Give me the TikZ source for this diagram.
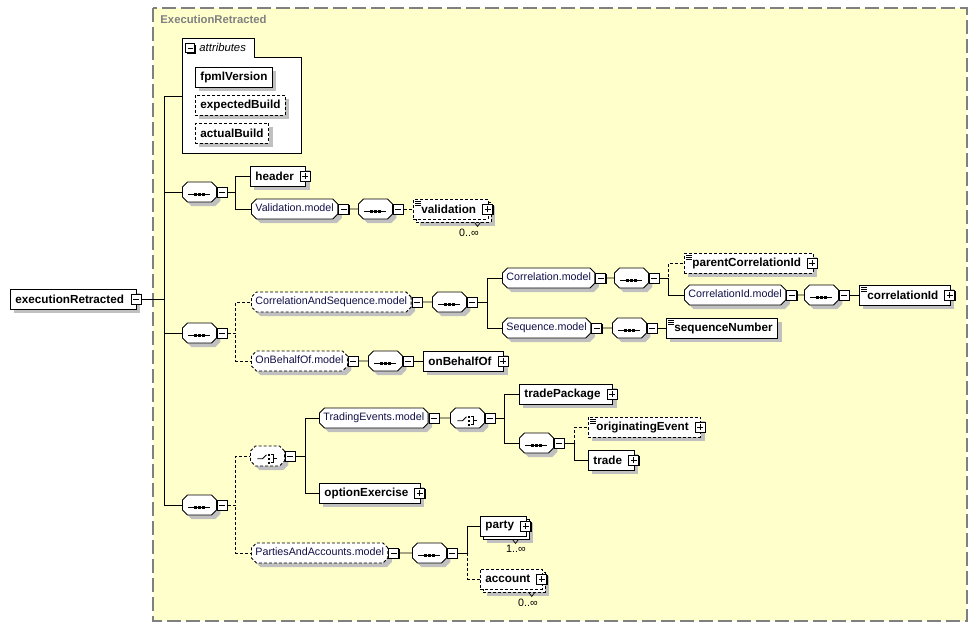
\documentclass[tikz,border=0pt]{standalone}
\usepackage{fontspec}
\setmainfont{Liberation Sans}
\usetikzlibrary{shapes.misc,shadows}
\definecolor{xsdback}{RGB}{255,255,204}
\definecolor{xsdframe}{RGB}{128,128,128}
\definecolor{xsdshadow}{RGB}{192,192,192}
\definecolor{xsdgroup}{RGB}{16,16,72}
\newcommand\plusat[1]{\node[plusbox] (#1p) at ([xshift=-1pt]#1.east) {};}
\newcommand\minusat[1]{\node[minusbox,anchor=west] (#1m) at (#1.east) {};}
\tikzset{
  xsd/.style={x=1pt,y=-1pt,line width=0.9pt,font=\fontsize{10.7}{12}\selectfont},
  shadowed/.style={drop shadow={shadow xshift=#1,shadow yshift=-#1,fill=xsdshadow,opacity=1}},
  shadowed/.default=4pt,
  opt/.style={dash pattern=on 3pt off 2pt},
  elembase/.style={rectangle,draw,fill=white,anchor=west,minimum height=20,inner xsep=5,inner ysep=0,
    font=\fontsize{11.7}{12}\selectfont\bfseries},
  elem/.style={elembase,shadowed},
  melem/.style={elembase,shadowed=7pt,copy shadow={shadow xshift=3pt,shadow yshift=-3pt,fill=white,draw=black}},
  hasplus/.style={execute at end node=\hspace*{7pt}},
  stype/.style={execute at begin node=\hspace*{3pt},path picture={
      \foreach \k in {2,4,6}
        \draw[solid,black,line width=0.7pt] ([xshift=2pt]path picture bounding box.north west) ++(0,\k) -- ++(6,0);}},
  grpbase/.style={chamfered rectangle,chamfered rectangle xsep=2.5pt,chamfered rectangle ysep=2.5pt,
    draw,fill=white,shadowed,anchor=west,text height=8pt,text depth=2.5pt,inner xsep=1.5pt,inner ysep=2.25pt},
  grp/.style={grpbase,text=xsdgroup},
  seqbox/.style={grpbase,inner xsep=14.5pt,path picture={
      \begin{scope}[shift={(path picture bounding box.center)}]
        \draw[solid,black] (-11,0) -- (11,0);
        \foreach \d in {-4,0,4} \fill[black] (\d-1.5,-1.5) rectangle (\d+1.5,1.5);
      \end{scope}}},
  choicebox/.style={grpbase,inner xsep=14.5pt,path picture={
      \begin{scope}[shift={(path picture bounding box.center)}]
        \draw[solid,black] (-10,0) -- (-5,0) -- (-1,-4);
        \foreach \d in {-4,0,4} \fill[black] (0.5,\d-1.2) rectangle (2.9,\d+1.2);
        \draw[solid,black] (4,-4) -- (6,-4) -- (6,4) -- (4,4) (6,0) -- (10,0);
      \end{scope}}},
  minusbox/.style={rectangle,draw,solid,fill=white,minimum size=10,inner sep=0,
    drop shadow={shadow xshift=1pt,shadow yshift=-1pt,fill=black,opacity=1},
    path picture={\draw[black] ([xshift=2pt]path picture bounding box.west) -- ([xshift=-2pt]path picture bounding box.east);}},
  plusbox/.style={minusbox,
    path picture={\draw[black] ([xshift=2pt]path picture bounding box.west) -- ([xshift=-2pt]path picture bounding box.east)
      ([yshift=2pt]path picture bounding box.south) -- ([yshift=-2pt]path picture bounding box.north);}},
  card/.style={inner sep=0,font=\fontsize{10.7}{12}\selectfont}
}
\begin{document}
\begin{tikzpicture}[xsd]
  \useasboundingbox (0,0) rectangle (978,627);
  \fill[white] (0,0) rectangle (978,627);
  \draw[xsdframe,fill=xsdback,line width=1.3pt,dash pattern=on 14pt off 5pt] (153,8) rectangle (967,621);
  \node[anchor=west,inner sep=0,text=xsdframe,font=\fontsize{11.3}{12}\selectfont\bfseries] (title) at (160,19) {ExecutionRetracted};

  % root element
  \node[elem,hasplus] (er) at (10,299) {executionRetracted};
  \node[minusbox] (erm) at (er.east) {};

  % attributes
  \node[minimum width=119,minimum height=115,anchor=north west,inner sep=0] (attrs) at (182,38) {};
  \filldraw[fill=white] (attrs.north west) -- ([xshift=72pt]attrs.north west) |- ([yshift=-19pt]attrs.north east)
    -- (attrs.south east) -- (attrs.south west) -- cycle;
  \node[minusbox,minimum size=9] (attrm) at (190,48) {};
  \node[anchor=west,inner sep=0,font=\fontsize{11.3}{12}\selectfont\itshape] (attrl) at (199,47) {attributes};
  \node[elem] (fpml) at (195,77) {fpmlVersion};
  \node[elem,opt] (expb) at (195,105) {expectedBuild};
  \node[elem,opt] (actb) at (195,133) {actualBuild};

  % first sequence
  \node[seqbox] (sqa) at (182,192) {};
  \minusat{sqa}
  \node[elem,hasplus] (hdr) at (250,176) {header};
  \plusat{hdr}
  \node[grp] (vmod) at (251,209) {Validation.model};
  \minusat{vmod}
  \node[seqbox] (vseq) at (358,209) {};
  \minusat{vseq}
  \node[melem,opt,stype,hasplus] (val) at (413,209) {validation};
  \plusat{val}
  \node[card] (valc) at (469,233) {0..∞};

  % second sequence
  \node[seqbox] (sqb) at (182,333) {};
  \minusat{sqb}
  \node[grp,opt] (cas) at (251,302) {CorrelationAndSequence.model};
  \minusat{cas}
  \node[seqbox] (casq) at (432,302) {};
  \minusat{casq}
  \node[grp] (cmod) at (502,278) {Correlation.model};
  \minusat{cmod}
  \node[seqbox] (cseq) at (614,278) {};
  \minusat{cseq}
  \node[elem,opt,stype,hasplus] (pcid) at (684,263) {parentCorrelationId};
  \plusat{pcid}
  \node[grp] (cimod) at (684,295) {CorrelationId.model};
  \minusat{cimod}
  \node[seqbox] (ciseq) at (804,295) {};
  \minusat{ciseq}
  \node[elem,stype,hasplus] (cid) at (859,295) {correlationId};
  \plusat{cid}
  \node[grp] (smod) at (502,328) {Sequence.model};
  \minusat{smod}
  \node[seqbox] (sseq) at (612,328) {};
  \minusat{sseq}
  \node[elem,stype] (snum) at (666,328) {sequenceNumber};
  \node[grp,opt] (obm) at (251,361) {OnBehalfOf.model};
  \minusat{obm}
  \node[seqbox] (obseq) at (368,361) {};
  \minusat{obseq}
  \node[elem,hasplus] (obo) at (423,361) {onBehalfOf};
  \plusat{obo}

  % third sequence
  \node[seqbox] (sqc) at (182,505) {};
  \minusat{sqc}
  \node[choicebox,opt] (cha) at (250,456) {};
  \minusat{cha}
  \node[grp] (tem) at (319,418) {TradingEvents.model};
  \minusat{tem}
  \node[choicebox] (chb) at (450,418) {};
  \minusat{chb}
  \node[elem,hasplus] (tpk) at (519,394) {tradePackage};
  \plusat{tpk}
  \node[seqbox] (tsq) at (519,443) {};
  \minusat{tsq}
  \node[elem,opt,stype,hasplus] (oev) at (588,427) {originatingEvent};
  \plusat{oev}
  \node[elem,hasplus] (trd) at (588,460) {trade};
  \plusat{trd}
  \node[elem,hasplus] (opx) at (319,493) {optionExercise};
  \plusat{opx}
  \node[grp,opt] (pam) at (251,553) {PartiesAndAccounts.model};
  \minusat{pam}
  \node[seqbox] (paseq) at (412,553) {};
  \minusat{paseq}
  \node[melem,hasplus] (pty) at (480,526) {party};
  \plusat{pty}
  \node[card] (ptyc) at (516,549) {1..∞};
  \node[melem,opt,hasplus] (acc) at (480,579) {account};
  \plusat{acc}
  \node[card] (accc) at (528,603) {0..∞};

  % occurrence notches
  \foreach \t in {val,pty,acc}
    \draw[line width=0.7pt] ([xshift=-14pt,yshift=-3pt]\t.south east) -- ++(3,4) -- ++(3,-4);

  % connectors
  \draw (erm.east) -- ++(23,0) |- (attrs.west);
  \foreach \t in {sqa,sqb,sqc} \draw (erm.east) -- ++(23,0) |- (\t.west);
  \foreach \t in {hdr,vmod} \draw (sqam.east) -- ++(8,0) |- (\t.west);
  \draw (vmodm) -- (vseq);
  \draw[opt] (vseqm) -- (val);
  \foreach \t in {cas,obm} \draw[opt] (sqbm.east) -- ++(8,0) |- (\t.west);
  \draw (casm) -- (casq);
  \foreach \t in {cmod,smod} \draw (casqm.east) -- ++(10,0) |- (\t.west);
  \draw (cmodm) -- (cseq);
  \draw[opt] (cseqm.east) -- ++(9,0) |- (pcid.west);
  \draw (cseqm.east) -- ++(9,0) |- (cimod.west);
  \draw (cimodm) -- (ciseq);
  \draw (ciseqm) -- (cid);
  \draw (smodm) -- (sseq);
  \draw (sseqm) -- (snum);
  \draw (obmm) -- (obseq);
  \draw (obseqm) -- (obo);
  \foreach \t in {cha,pam} \draw[opt] (sqcm.east) -- ++(8,0) |- (\t.west);
  \foreach \t in {tem,opx} \draw (cham.east) -- ++(10,0) |- (\t.west);
  \draw (temm) -- (chb);
  \foreach \t in {tpk,tsq} \draw (chbm.east) -- ++(9,0) |- (\t.west);
  \draw[opt] (tsqm.east) -- ++(10,0) |- (oev.west);
  \draw (tsqm.east) -- ++(10,0) |- (trd.west);
  \draw (pamm) -- (paseq);
  \draw (paseqm.east) -- ++(10,0) |- (pty.west);
  \draw[opt] (paseqm.east) -- ++(10,0) |- (acc.west);
\end{tikzpicture}
\end{document}
